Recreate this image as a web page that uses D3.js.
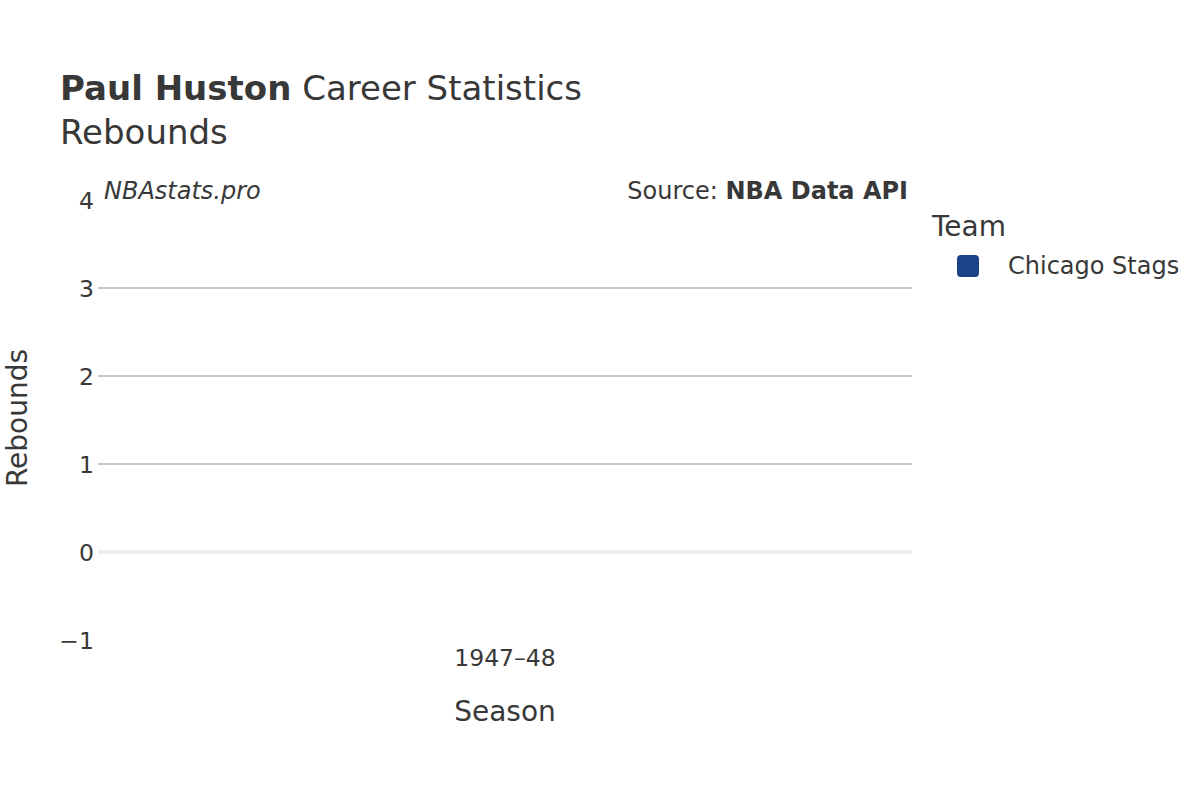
<!DOCTYPE html>
<html><head><meta charset="utf-8">
<script src="https://cdn.jsdelivr.net/npm/d3@7"></script>
<style>body{margin:0;background:#fff;} text{font-family:"DejaVu Sans",sans-serif;fill:#383838;}</style>
</head><body><svg id="c" width="1200" height="800"></svg>
<script>
const seasons = ["1947–48"];
const teams = ["Chicago Stags"];
const rebounds = [0];
const teamColors = ["#1c4287"];
const yTicks = [-1, 0, 1, 2, 3, 4];

const svg = d3.select("#c");
const m = {l: 98, r: 912, t: 200, b: 640};
const x = d3.scaleBand().domain(seasons).range([m.l, m.r]).padding(0.2);
const y = d3.scaleLinear().domain([-1, 4]).range([m.b, m.t]);

// axis ticks
const yAxis = d3.axisLeft(y).tickValues(yTicks).tickFormat(d => d < 0 ? "\u2212" + Math.abs(d) : d).tickSize(0).tickPadding(4);
const ga = svg.append("g").attr("transform", `translate(${m.l},0)`).call(yAxis);
ga.select(".domain").remove();
ga.selectAll("text").style("font-size", "23.5px").attr("fill", "#383838").attr("dy", "0.35em");
// gridlines
svg.append("g").selectAll("line").data(yTicks.filter(d => d > 0 && d < 4)).join("line")
  .attr("x1", m.l).attr("x2", m.r).attr("y1", d => y(d)).attr("y2", d => y(d))
  .attr("stroke", "#c8c8c8").attr("stroke-width", 2);
svg.append("line").attr("x1", m.l).attr("x2", m.r).attr("y1", y(0)).attr("y2", y(0))
  .attr("stroke", "#eeeeee").attr("stroke-width", 4);

// bars
svg.append("g").selectAll("rect").data(rebounds).join("rect")
  .attr("x", (d, i) => x(seasons[i])).attr("width", x.bandwidth())
  .attr("y", d => y(Math.max(0, d))).attr("height", d => Math.abs(y(d) - y(0)))
  .attr("fill", teamColors[0]);

// x axis
const xAxis = d3.axisBottom(x).tickSize(0).tickPadding(0);
const gx = svg.append("g").attr("transform", `translate(0,${m.b})`).call(xAxis);
gx.select(".domain").remove();
gx.selectAll("text").style("font-size", "23.5px").attr("fill", "#383838").attr("dy", null).attr("y", 26);

// titles
const t = svg.append("text").attr("x", 60).attr("y", 100).style("font-size", "34px");
t.append("tspan").attr("font-weight", "bold").text("Paul Huston");
t.append("tspan").text(" Career Statistics");
svg.append("text").attr("x", 60).attr("y", 144).style("font-size", "34px").text("Rebounds");

svg.append("text").attr("x", 104).attr("y", 199).style("font-size", "24px").attr("font-style", "italic").text("NBAstats.pro");
const s = svg.append("text").attr("x", 908).attr("y", 199).attr("text-anchor", "end").style("font-size", "24px");
s.append("tspan").text("Source: ");
s.append("tspan").attr("font-weight", "bold").text("NBA Data API");

svg.append("text").attr("x", (m.l + m.r) / 2).attr("y", 721).attr("text-anchor", "middle").style("font-size", "28px").text("Season");
svg.append("text").attr("transform", `translate(27,${(m.t + m.b) / 2 - 2}) rotate(-90)`).attr("text-anchor", "middle").style("font-size", "28px").text("Rebounds");

// legend
svg.append("text").attr("x", 932).attr("y", 236).style("font-size", "28px").text("Team");
const lg = svg.append("g").selectAll("g").data(teams).join("g").attr("transform", (d, i) => `translate(957,${255 + i * 30})`);
lg.append("rect").attr("width", 22).attr("height", 22).attr("rx", 4).attr("fill", (d, i) => teamColors[i]);
lg.append("text").attr("x", 51).attr("y", 11).attr("dy", "0.35em").style("font-size", "24px").text(d => d);
</script></body></html>
